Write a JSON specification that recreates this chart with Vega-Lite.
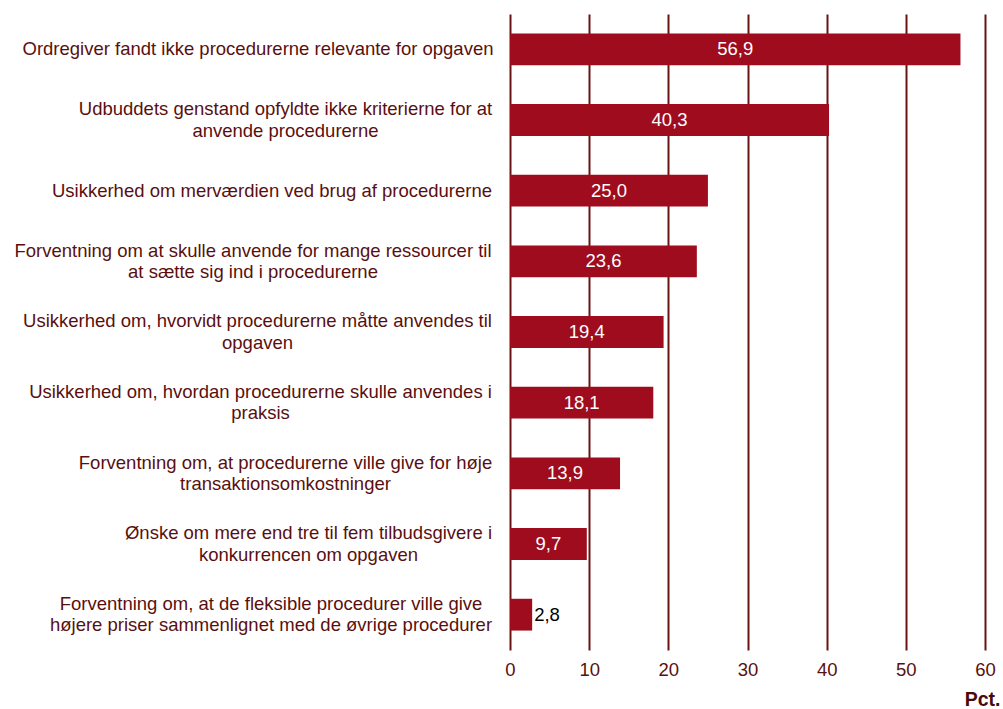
{
  "$schema": "https://vega.github.io/schema/vega-lite/v6.json",
  "width": 475,
  "height": 636,
  "autosize": "none",
  "padding": {"left": 510, "top": 14, "right": 18, "bottom": 59},
  "background": "white",
  "data": {
    "values": [
      {"cat": "Ordregiver fandt ikke procedurerne relevante for opgaven", "value": 56.9, "label": "56,9"},
      {"cat": "Udbuddets genstand opfyldte ikke kriterierne for at|anvende procedurerne", "value": 40.3, "label": "40,3"},
      {"cat": "Usikkerhed om merværdien ved brug af procedurerne", "value": 25.0, "label": "25,0"},
      {"cat": "Forventning om at skulle anvende for mange ressourcer til|at sætte sig ind i procedurerne", "value": 23.6, "label": "23,6"},
      {"cat": "Usikkerhed om, hvorvidt procedurerne måtte anvendes til|opgaven", "value": 19.4, "label": "19,4"},
      {"cat": "Usikkerhed om, hvordan procedurerne skulle anvendes i|praksis", "value": 18.1, "label": "18,1"},
      {"cat": "Forventning om, at procedurerne ville give for høje|transaktionsomkostninger", "value": 13.9, "label": "13,9"},
      {"cat": "Ønske om mere end tre til fem tilbudsgivere i|konkurrencen om opgaven", "value": 9.7, "label": "9,7"},
      {"cat": "Forventning om, at de fleksible procedurer ville give|højere priser sammenlignet med de øvrige procedurer", "value": 2.8, "label": "2,8"}
    ]
  },
  "encoding": {
    "y": {
      "field": "cat",
      "type": "nominal",
      "sort": [
        "Ordregiver fandt ikke procedurerne relevante for opgaven",
        "Udbuddets genstand opfyldte ikke kriterierne for at|anvende procedurerne",
        "Usikkerhed om merværdien ved brug af procedurerne",
        "Forventning om at skulle anvende for mange ressourcer til|at sætte sig ind i procedurerne",
        "Usikkerhed om, hvorvidt procedurerne måtte anvendes til|opgaven",
        "Usikkerhed om, hvordan procedurerne skulle anvendes i|praksis",
        "Forventning om, at procedurerne ville give for høje|transaktionsomkostninger",
        "Ønske om mere end tre til fem tilbudsgivere i|konkurrencen om opgaven",
        "Forventning om, at de fleksible procedurer ville give|højere priser sammenlignet med de øvrige procedurer"
      ],
      "scale": {"paddingInner": 0.55, "paddingOuter": 0.275},
      "axis": {
        "title": null,
        "domain": false,
        "ticks": false,
        "tickSize": 0,
        "labelExpr": "split(datum.value, '|')",
        "labelAlign": "center",
        "labelPadding": {
          "condition": [
            {"test": "indexof(datum.value, 'Ordregiver') == 0", "value": 252.5},
            {"test": "indexof(datum.value, 'Udbuddets') == 0", "value": 225},
            {"test": "indexof(datum.value, 'Usikkerhed om merv') == 0", "value": 238.5},
            {"test": "indexof(datum.value, 'Forventning om at skulle') == 0", "value": 257.5},
            {"test": "indexof(datum.value, 'Usikkerhed om, hvorvidt') == 0", "value": 253},
            {"test": "indexof(datum.value, 'Usikkerhed om, hvordan') == 0", "value": 250},
            {"test": "indexof(datum.value, 'Forventning om, at procedurerne') == 0", "value": 225},
            {"test": "indexof(datum.value, 'Ønske') == 0", "value": 202}
          ],
          "value": 239.5
        },
        "labelOffset": {
          "condition": {"test": "indexof(datum.value, '|') >= 0", "value": -10.75},
          "value": 0
        },
        "labelLimit": 520,
        "labelFont": "Liberation Sans",
        "labelFontSize": 18.5,
        "labelLineHeight": 21.5,
        "labelColor": "#5a0f0f"
      }
    }
  },
  "layer": [
    {
      "mark": {"type": "bar", "color": "#9e0c1e"},
      "encoding": {
        "x": {
          "field": "value",
          "type": "quantitative",
          "scale": {"domain": [0, 60], "nice": false},
          "axis": {
            "values": [0, 10, 20, 30, 40, 50, 60],
            "title": "Pct.",
            "titleFont": "Liberation Sans",
            "titleFontSize": 19.5,
            "titleFontWeight": "bold",
            "titleColor": "#4a0a0a",
            "titleAnchor": "end",
            "titleAlign": "right",
            "titleX": 490,
            "titleY": 55,
            "titleBaseline": "alphabetic",
            "domain": false,
            "ticks": false,
            "tickSize": 0,
            "grid": true,
            "gridColor": "#6b1414",
            "gridWidth": 2,
            "labelFlush": false,
            "labelPadding": 10,
            "labelFont": "Liberation Sans",
            "labelFontSize": 18.5,
            "labelColor": "#5a0f0f"
          }
        }
      }
    },
    {
      "transform": [{"filter": "datum.value >= 5"}, {"calculate": "datum.value / 2", "as": "mid"}],
      "mark": {"type": "text", "color": "white", "font": "Liberation Sans", "fontSize": 18.5, "align": "center", "baseline": "middle"},
      "encoding": {
        "x": {"field": "mid", "type": "quantitative"},
        "text": {"field": "label"}
      }
    },
    {
      "transform": [{"filter": "datum.value < 5"}],
      "mark": {"type": "text", "color": "black", "font": "Liberation Sans", "fontSize": 18.5, "align": "left", "baseline": "middle", "dx": 2},
      "encoding": {
        "x": {"field": "value", "type": "quantitative"},
        "text": {"field": "label"}
      }
    }
  ],
  "config": {"view": {"stroke": null}}
}
